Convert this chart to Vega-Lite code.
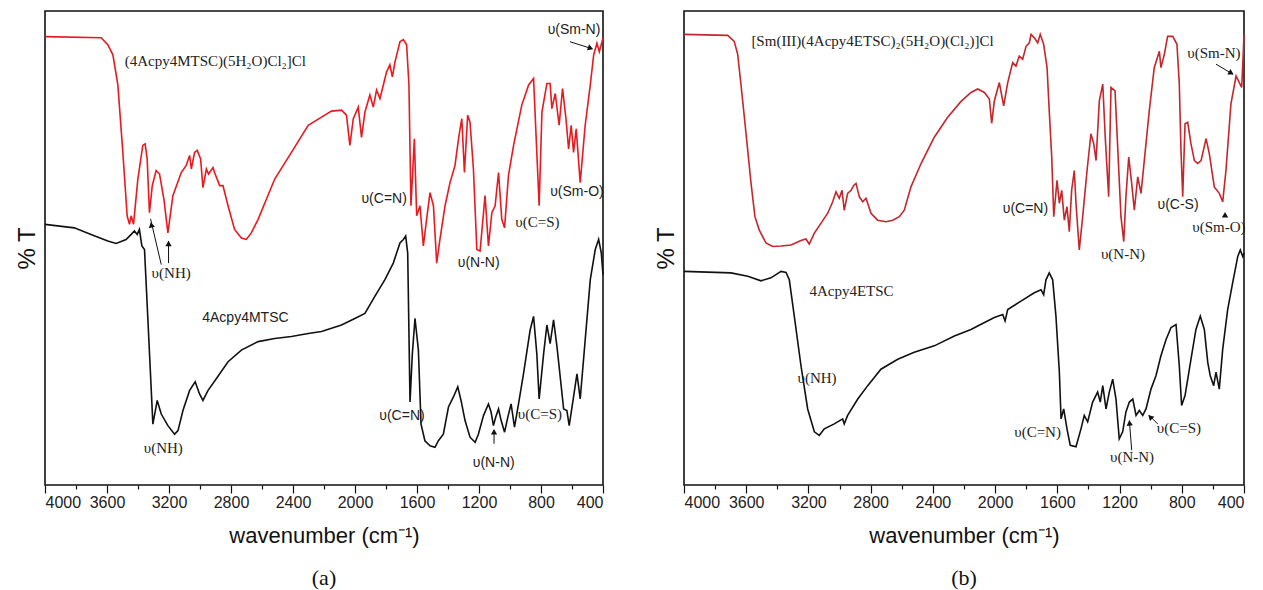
{
  "$schema": "https://vega.github.io/schema/vega-lite/v6.json",
  "padding": {"left": 14, "top": 10, "right": 5, "bottom": 0},
  "spacing": 46,
  "config": {"view": {"stroke": "#111", "strokeWidth": 1.6}},
  "datasets": {
    "a_complex": [{"wn":4000,"T":89.1},{"wn":3638,"T":88.9},{"wn":3595,"T":87.5},{"wn":3562,"T":85.5},{"wn":3530,"T":79.5},{"wn":3498,"T":66.2},{"wn":3470,"T":53.5},{"wn":3455,"T":51.8},{"wn":3444,"T":53.5},{"wn":3429,"T":51.8},{"wn":3401,"T":60.8},{"wn":3369,"T":67.5},{"wn":3354,"T":67.8},{"wn":3341,"T":64.8},{"wn":3326,"T":54.1},{"wn":3308,"T":59.5},{"wn":3283,"T":62.5},{"wn":3261,"T":61.8},{"wn":3233,"T":56.8},{"wn":3207,"T":50.1},{"wn":3175,"T":57.5},{"wn":3121,"T":62.1},{"wn":3089,"T":63.5},{"wn":3067,"T":65.5},{"wn":3056,"T":62.8},{"wn":3035,"T":66.1},{"wn":3018,"T":66.5},{"wn":2996,"T":64.8},{"wn":2981,"T":59.1},{"wn":2959,"T":62.8},{"wn":2945,"T":61.8},{"wn":2916,"T":63.1},{"wn":2906,"T":62.1},{"wn":2873,"T":59.5},{"wn":2852,"T":59.5},{"wn":2819,"T":55.5},{"wn":2777,"T":50.8},{"wn":2733,"T":49.1},{"wn":2701,"T":48.8},{"wn":2669,"T":50.1},{"wn":2625,"T":52.8},{"wn":2518,"T":60.8},{"wn":2410,"T":66.1},{"wn":2302,"T":71.5},{"wn":2216,"T":73.1},{"wn":2152,"T":74.3},{"wn":2087,"T":74.5},{"wn":2055,"T":73.5},{"wn":2033,"T":67.5},{"wn":2011,"T":72.8},{"wn":1979,"T":75.1},{"wn":1958,"T":69.1},{"wn":1936,"T":74.1},{"wn":1904,"T":77.5},{"wn":1882,"T":75.1},{"wn":1861,"T":78.5},{"wn":1839,"T":76.8},{"wn":1796,"T":82.1},{"wn":1775,"T":83.5},{"wn":1759,"T":81.1},{"wn":1742,"T":84.1},{"wn":1710,"T":88.1},{"wn":1688,"T":88.5},{"wn":1667,"T":87.5},{"wn":1652,"T":79.5},{"wn":1639,"T":55.5},{"wn":1617,"T":68.8},{"wn":1602,"T":53.5},{"wn":1581,"T":55.5},{"wn":1559,"T":47.5},{"wn":1538,"T":52.8},{"wn":1516,"T":58.1},{"wn":1494,"T":55.5},{"wn":1473,"T":44.1},{"wn":1452,"T":48.8},{"wn":1419,"T":55.5},{"wn":1387,"T":60.1},{"wn":1355,"T":63.5},{"wn":1329,"T":69.5},{"wn":1311,"T":72.8},{"wn":1294,"T":62.1},{"wn":1273,"T":73.5},{"wn":1258,"T":72.1},{"wn":1236,"T":62.8},{"wn":1214,"T":46.8},{"wn":1193,"T":46.5},{"wn":1161,"T":57.5},{"wn":1139,"T":47.5},{"wn":1117,"T":54.1},{"wn":1096,"T":55.5},{"wn":1074,"T":62.1},{"wn":1053,"T":52.8},{"wn":1035,"T":51.1},{"wn":1010,"T":61.5},{"wn":977,"T":67.5},{"wn":924,"T":75.5},{"wn":880,"T":79.5},{"wn":848,"T":80.8},{"wn":827,"T":66.1},{"wn":812,"T":55.5},{"wn":794,"T":74.1},{"wn":762,"T":79.8},{"wn":741,"T":79.8},{"wn":730,"T":74.8},{"wn":708,"T":77.8},{"wn":683,"T":71.5},{"wn":661,"T":78.8},{"wn":639,"T":72.8},{"wn":622,"T":66.8},{"wn":605,"T":71.5},{"wn":590,"T":66.1},{"wn":573,"T":70.8},{"wn":547,"T":60.1},{"wn":515,"T":71.5},{"wn":482,"T":79.5},{"wn":460,"T":85.5},{"wn":439,"T":87.8},{"wn":424,"T":86.1},{"wn":400,"T":88.8}],
    "a_ligand": [{"wn":4000,"T":51.8},{"wn":3811,"T":51.1},{"wn":3703,"T":49.8},{"wn":3595,"T":48.5},{"wn":3541,"T":48},{"wn":3477,"T":48.8},{"wn":3444,"T":49.8},{"wn":3423,"T":50.5},{"wn":3405,"T":49.8},{"wn":3391,"T":50.8},{"wn":3375,"T":47.5},{"wn":3358,"T":46.8},{"wn":3336,"T":32.8},{"wn":3304,"T":12.1},{"wn":3276,"T":16.8},{"wn":3250,"T":14.1},{"wn":3207,"T":11.8},{"wn":3164,"T":10.1},{"wn":3142,"T":10.8},{"wn":3110,"T":14.8},{"wn":3067,"T":18.8},{"wn":3031,"T":20.5},{"wn":3003,"T":18.1},{"wn":2981,"T":16.8},{"wn":2948,"T":18.8},{"wn":2895,"T":21.1},{"wn":2819,"T":24.5},{"wn":2733,"T":26.8},{"wn":2625,"T":28.5},{"wn":2518,"T":29.1},{"wn":2410,"T":29.5},{"wn":2302,"T":30.1},{"wn":2216,"T":30.5},{"wn":2087,"T":31.8},{"wn":2001,"T":33.1},{"wn":1936,"T":34.1},{"wn":1872,"T":37.5},{"wn":1807,"T":40.8},{"wn":1753,"T":44.1},{"wn":1710,"T":48.1},{"wn":1688,"T":48.8},{"wn":1673,"T":49.5},{"wn":1660,"T":46.1},{"wn":1645,"T":16.5},{"wn":1630,"T":26.1},{"wn":1613,"T":33.1},{"wn":1591,"T":26.8},{"wn":1574,"T":12.1},{"wn":1549,"T":8.8},{"wn":1516,"T":7.8},{"wn":1484,"T":7.5},{"wn":1462,"T":8.8},{"wn":1430,"T":10.1},{"wn":1397,"T":15.5},{"wn":1365,"T":17.5},{"wn":1337,"T":19.5},{"wn":1316,"T":16.8},{"wn":1290,"T":12.8},{"wn":1258,"T":9.5},{"wn":1225,"T":8.5},{"wn":1204,"T":10.1},{"wn":1171,"T":13.8},{"wn":1139,"T":16.1},{"wn":1122,"T":14.5},{"wn":1107,"T":11.8},{"wn":1092,"T":13.5},{"wn":1074,"T":15.1},{"wn":1057,"T":12.8},{"wn":1035,"T":10.5},{"wn":1014,"T":13.5},{"wn":993,"T":16.1},{"wn":971,"T":11.5},{"wn":945,"T":16.1},{"wn":913,"T":22.1},{"wn":870,"T":30.8},{"wn":848,"T":33.5},{"wn":827,"T":26.1},{"wn":812,"T":17.1},{"wn":783,"T":26.1},{"wn":762,"T":31.8},{"wn":741,"T":28.1},{"wn":719,"T":32.8},{"wn":697,"T":27.5},{"wn":676,"T":21.5},{"wn":654,"T":15.1},{"wn":633,"T":14.8},{"wn":618,"T":11.8},{"wn":590,"T":17.5},{"wn":568,"T":22.1},{"wn":547,"T":17.1},{"wn":515,"T":28.8},{"wn":482,"T":40.8},{"wn":450,"T":46.8},{"wn":428,"T":48.8},{"wn":411,"T":46.1},{"wn":400,"T":41.8}],
    "b_complex": [{"wn":4000,"T":90.7},{"wn":3719,"T":90.5},{"wn":3677,"T":89.3},{"wn":3655,"T":86.7},{"wn":3634,"T":80.7},{"wn":3601,"T":70.7},{"wn":3569,"T":60.7},{"wn":3544,"T":54},{"wn":3516,"T":51.3},{"wn":3473,"T":48.7},{"wn":3430,"T":48},{"wn":3376,"T":48.1},{"wn":3312,"T":48.3},{"wn":3248,"T":49.2},{"wn":3216,"T":49.5},{"wn":3195,"T":48.5},{"wn":3162,"T":50.7},{"wn":3119,"T":52.7},{"wn":3076,"T":54.7},{"wn":3044,"T":57},{"wn":3023,"T":59},{"wn":3002,"T":57.7},{"wn":2984,"T":59.3},{"wn":2970,"T":55.3},{"wn":2948,"T":58.7},{"wn":2926,"T":59.3},{"wn":2909,"T":60.3},{"wn":2894,"T":60.7},{"wn":2873,"T":58},{"wn":2851,"T":57},{"wn":2830,"T":57.7},{"wn":2798,"T":54.7},{"wn":2755,"T":53.3},{"wn":2701,"T":53},{"wn":2658,"T":53.3},{"wn":2616,"T":54},{"wn":2584,"T":55.3},{"wn":2541,"T":60},{"wn":2476,"T":64.7},{"wn":2391,"T":70},{"wn":2305,"T":74},{"wn":2219,"T":77.2},{"wn":2155,"T":79},{"wn":2112,"T":79.7},{"wn":2069,"T":79},{"wn":2037,"T":77.7},{"wn":2022,"T":72.8},{"wn":2005,"T":77.3},{"wn":1973,"T":81},{"wn":1945,"T":76.3},{"wn":1919,"T":81},{"wn":1887,"T":85},{"wn":1866,"T":84.3},{"wn":1845,"T":86.3},{"wn":1823,"T":85.7},{"wn":1801,"T":88.3},{"wn":1780,"T":89},{"wn":1769,"T":90.7},{"wn":1748,"T":90},{"wn":1726,"T":89},{"wn":1710,"T":90.7},{"wn":1688,"T":88.7},{"wn":1666,"T":84},{"wn":1652,"T":75.3},{"wn":1636,"T":66},{"wn":1623,"T":54},{"wn":1602,"T":61.3},{"wn":1587,"T":56.7},{"wn":1572,"T":59.3},{"wn":1555,"T":53.3},{"wn":1538,"T":56},{"wn":1523,"T":51},{"wn":1508,"T":59.3},{"wn":1491,"T":63.3},{"wn":1480,"T":56.7},{"wn":1459,"T":47.3},{"wn":1437,"T":54},{"wn":1409,"T":63.3},{"wn":1384,"T":70.7},{"wn":1366,"T":68.7},{"wn":1351,"T":65.3},{"wn":1330,"T":77.3},{"wn":1308,"T":80.7},{"wn":1292,"T":70},{"wn":1270,"T":58},{"wn":1255,"T":80},{"wn":1229,"T":79.3},{"wn":1212,"T":68},{"wn":1191,"T":54},{"wn":1173,"T":49},{"wn":1159,"T":58},{"wn":1141,"T":66},{"wn":1122,"T":60.7},{"wn":1105,"T":55.3},{"wn":1083,"T":62},{"wn":1062,"T":58.7},{"wn":1041,"T":65.3},{"wn":1009,"T":75.3},{"wn":977,"T":84},{"wn":944,"T":87.3},{"wn":934,"T":84},{"wn":912,"T":86.7},{"wn":891,"T":90.3},{"wn":858,"T":90.3},{"wn":831,"T":88.7},{"wn":816,"T":80.7},{"wn":805,"T":67.3},{"wn":794,"T":58},{"wn":779,"T":72.7},{"wn":762,"T":73},{"wn":741,"T":68.7},{"wn":719,"T":65.3},{"wn":698,"T":64.7},{"wn":676,"T":65.3},{"wn":644,"T":69.7},{"wn":623,"T":66.7},{"wn":591,"T":60},{"wn":559,"T":58.7},{"wn":537,"T":57},{"wn":516,"T":63.3},{"wn":484,"T":76.7},{"wn":451,"T":82.3},{"wn":430,"T":81},{"wn":415,"T":80},{"wn":405,"T":86.7},{"wn":400,"T":90.7}],
    "b_ligand": [{"wn":4000,"T":43},{"wn":3698,"T":42.7},{"wn":3590,"T":42},{"wn":3505,"T":41.1},{"wn":3441,"T":41.7},{"wn":3376,"T":43},{"wn":3344,"T":42.8},{"wn":3323,"T":41.3},{"wn":3291,"T":34},{"wn":3248,"T":24},{"wn":3205,"T":15.3},{"wn":3162,"T":10.7},{"wn":3130,"T":10},{"wn":3098,"T":11.3},{"wn":3034,"T":12.3},{"wn":2980,"T":13.3},{"wn":2970,"T":12.3},{"wn":2948,"T":14},{"wn":2883,"T":17.3},{"wn":2819,"T":20},{"wn":2734,"T":23.3},{"wn":2626,"T":25.3},{"wn":2520,"T":26.7},{"wn":2391,"T":28},{"wn":2262,"T":30},{"wn":2155,"T":31.3},{"wn":2112,"T":32},{"wn":2005,"T":33.7},{"wn":1951,"T":34.3},{"wn":1936,"T":33},{"wn":1919,"T":35.3},{"wn":1834,"T":37},{"wn":1748,"T":38.7},{"wn":1705,"T":39.3},{"wn":1688,"T":38.3},{"wn":1673,"T":41.3},{"wn":1652,"T":42.7},{"wn":1630,"T":41.3},{"wn":1609,"T":34},{"wn":1587,"T":22.7},{"wn":1576,"T":13.3},{"wn":1559,"T":15.3},{"wn":1538,"T":11.3},{"wn":1517,"T":8},{"wn":1480,"T":7.7},{"wn":1448,"T":11.3},{"wn":1427,"T":14},{"wn":1405,"T":12.7},{"wn":1373,"T":16.7},{"wn":1341,"T":18.7},{"wn":1324,"T":16.7},{"wn":1308,"T":20},{"wn":1287,"T":15.3},{"wn":1266,"T":18.7},{"wn":1244,"T":21.3},{"wn":1223,"T":17.3},{"wn":1202,"T":9.3},{"wn":1180,"T":10.7},{"wn":1159,"T":14.7},{"wn":1137,"T":16.7},{"wn":1115,"T":17.3},{"wn":1094,"T":14},{"wn":1073,"T":15},{"wn":1051,"T":14},{"wn":1030,"T":15.3},{"wn":998,"T":19.3},{"wn":966,"T":22},{"wn":934,"T":26},{"wn":901,"T":29.3},{"wn":869,"T":31.7},{"wn":837,"T":32.3},{"wn":816,"T":24},{"wn":801,"T":16},{"wn":779,"T":18},{"wn":741,"T":25.3},{"wn":709,"T":31.3},{"wn":681,"T":34},{"wn":655,"T":31.3},{"wn":633,"T":24.7},{"wn":617,"T":22},{"wn":595,"T":20},{"wn":580,"T":22.7},{"wn":559,"T":19.3},{"wn":537,"T":27.3},{"wn":505,"T":35.3},{"wn":473,"T":40.7},{"wn":440,"T":46},{"wn":424,"T":47.3},{"wn":408,"T":46},{"wn":400,"T":46.7}],
    "a_arrows": [{"wn":3250,"T":43.8,"wn2":3319,"T2":52.9},{"wn":3203,"T":44.1,"wn2":3203,"T2":48.5},{"wn":613,"T":88.1,"wn2":471,"T2":86.7},{"wn":1103,"T":8.2,"wn2":1103,"T2":10.8}],
    "a_heads": [{"wn":3314,"T":51.7,"dir":347},{"wn":3203,"T":48.0,"dir":0},{"wn":480,"T":86.8,"dir":109},{"wn":1103,"T":10.6,"dir":0}],
    "b_arrows": [{"wn":580,"T":84.7,"wn2":473,"T2":82.7},{"wn":1122,"T":7,"wn2":1137,"T2":13},{"wn":955,"T":12.3,"wn2":1009,"T2":14}],
    "b_heads": [{"wn":482,"T":82.9,"dir":121},{"wn":1136,"T":12.5,"dir":355},{"wn":1003,"T":13.7,"dir":315},{"wn":522,"T":54.4,"dir":0}],
    "a_serif": [{"wn":2901,"T":84.2,"label":"(4Acpy4MTSC)(5H₂O)Cl₂]Cl"},{"wn":3186,"T":42.2,"label":"υ(NH)"},{"wn":3237,"T":7.4,"label":"υ(NH)"},{"wn":823,"T":52.2,"label":"υ(C=S)"},{"wn":807,"T":14.2,"label":"υ(C=S)"}],
    "a_sans": [{"wn":2707,"T":33.2,"label":"4Acpy4MTSC"},{"wn":1812,"T":56.8,"label":"υ(C=N)"},{"wn":1202,"T":44.2,"label":"υ(N-N)"},{"wn":568,"T":58.2,"label":"υ(Sm-O)"},{"wn":587,"T":90.4,"label":"υ(Sm-N)"},{"wn":1697,"T":13.8,"label":"υ(C=N)"},{"wn":1105,"T":4.4,"label":"υ(N-N)"}],
    "b_serif": [{"wn":2788,"T":89.3,"label":"[Sm(III)(4Acpy4ETSC)₂(5H₂O)(Cl₂)]Cl"},{"wn":2923,"T":39,"label":"4Acpy4ETSC"},{"wn":3145,"T":21.6,"label":"υ(NH)"},{"wn":1178,"T":46.4,"label":"υ(N-N)"},{"wn":561,"T":52,"label":"υ(Sm-O)"},{"wn":593,"T":87,"label":"υ(Sm-N)"},{"wn":1727,"T":10.6,"label":"υ(C=N)"},{"wn":1120,"T":5.6,"label":"υ(N-N)"},{"wn":818,"T":11.4,"label":"υ(C=S)"}],
    "b_sans": [{"wn":1805,"T":55.6,"label":"υ(C=N)"},{"wn":824,"T":56.4,"label":"υ(C-S)"}]
  },
  "hconcat": [
    {
      "width": 558, "height": 474,
      "title": {"text": "(a)", "orient": "bottom", "font": "Liberation Serif", "fontSize": 22, "fontWeight": "normal", "color": "#111", "offset": 22},
      "encoding": {
        "x": {"field": "wn", "type": "quantitative", "scale": {"domain": [4000, 400], "nice": false, "zero": false},
          "axis": {"title": "wavenumber (cm⁻¹)", "values": [4000,3800,3600,3400,3200,3000,2800,2600,2400,2200,2000,1800,1600,1400,1200,1000,800,600,400], "format": "d", "labelExpr": "datum.value % 400 == 0 ? datum.label : ''", "labelOverlap": false, "tickSize": {"condition": {"test": "datum.value % 400 == 0", "value": 8}, "value": 4}, "tickColor": "#111", "tickWidth": 1.2, "grid": false, "domain": false, "labelFont": "Liberation Sans", "labelFontSize": 16, "labelColor": "#222", "labelPadding": 1, "titleFont": "Liberation Sans", "titleFontSize": 22, "titleFontWeight": "normal", "titleColor": "#111", "titlePadding": 15}},
        "y": {"field": "T", "type": "quantitative", "scale": {"domain": [0, 94.2], "nice": false, "zero": false},
          "axis": {"title": "% T", "labels": false, "ticks": false, "domain": false, "grid": false, "titleFont": "Liberation Sans", "titleFontSize": 24, "titleFontWeight": "normal", "titleColor": "#111", "titlePadding": 6}}
      },
      "layer": [
        {"data": {"name": "a_complex"}, "mark": {"type": "line", "color": "#e8191f", "strokeWidth": 1.6}},
        {"data": {"name": "a_ligand"}, "mark": {"type": "line", "color": "#111", "strokeWidth": 1.6}},
        {"data": {"name": "a_arrows"}, "mark": {"type": "rule", "color": "#111", "strokeWidth": 1}, "encoding": {"x2": {"field": "wn2"}, "y2": {"field": "T2"}}},
        {"data": {"name": "a_heads"}, "mark": {"type": "point", "shape": "triangle-up", "filled": true, "color": "#111", "size": 40, "opacity": 1}, "encoding": {"angle": {"field": "dir", "type": "quantitative", "scale": null}}},
        {"data": {"name": "a_serif"}, "mark": {"type": "text", "font": "Liberation Serif", "fontSize": 15, "color": "#222"}, "encoding": {"text": {"field": "label"}}},
        {"data": {"name": "a_sans"}, "mark": {"type": "text", "font": "Liberation Sans", "fontSize": 14, "color": "#222"}, "encoding": {"text": {"field": "label"}}}
      ]
    },
    {
      "width": 560, "height": 474,
      "title": {"text": "(b)", "orient": "bottom", "font": "Liberation Serif", "fontSize": 22, "fontWeight": "normal", "color": "#111", "offset": 22},
      "encoding": {
        "x": {"field": "wn", "type": "quantitative", "scale": {"domain": [4000, 400], "nice": false, "zero": false},
          "axis": {"title": "wavenumber (cm⁻¹)", "values": [4000,3800,3600,3400,3200,3000,2800,2600,2400,2200,2000,1800,1600,1400,1200,1000,800,600,400], "format": "d", "labelExpr": "datum.value % 400 == 0 ? datum.label : ''", "labelOverlap": false, "tickSize": {"condition": {"test": "datum.value % 400 == 0", "value": 8}, "value": 4}, "tickColor": "#111", "tickWidth": 1.2, "grid": false, "domain": false, "labelFont": "Liberation Sans", "labelFontSize": 16, "labelColor": "#222", "labelPadding": 1, "titleFont": "Liberation Sans", "titleFontSize": 22, "titleFontWeight": "normal", "titleColor": "#111", "titlePadding": 15}},
        "y": {"field": "T", "type": "quantitative", "scale": {"domain": [0, 95.4], "nice": false, "zero": false},
          "axis": {"title": "% T", "labels": false, "ticks": false, "domain": false, "grid": false, "titleFont": "Liberation Sans", "titleFontSize": 24, "titleFontWeight": "normal", "titleColor": "#111", "titlePadding": 6}}
      },
      "layer": [
        {"data": {"name": "b_complex"}, "mark": {"type": "line", "color": "#c4262b", "strokeWidth": 1.6}},
        {"data": {"name": "b_ligand"}, "mark": {"type": "line", "color": "#111", "strokeWidth": 1.6}},
        {"data": {"name": "b_arrows"}, "mark": {"type": "rule", "color": "#111", "strokeWidth": 1}, "encoding": {"x2": {"field": "wn2"}, "y2": {"field": "T2"}}},
        {"data": {"name": "b_heads"}, "mark": {"type": "point", "shape": "triangle-up", "filled": true, "color": "#111", "size": 40, "opacity": 1}, "encoding": {"angle": {"field": "dir", "type": "quantitative", "scale": null}}},
        {"data": {"name": "b_serif"}, "mark": {"type": "text", "font": "Liberation Serif", "fontSize": 15, "color": "#222"}, "encoding": {"text": {"field": "label"}}},
        {"data": {"name": "b_sans"}, "mark": {"type": "text", "font": "Liberation Sans", "fontSize": 14, "color": "#222"}, "encoding": {"text": {"field": "label"}}}
      ]
    }
  ]
}
